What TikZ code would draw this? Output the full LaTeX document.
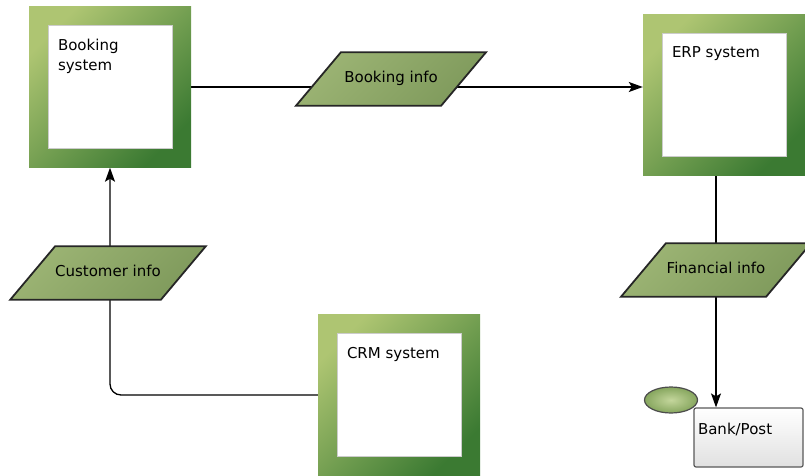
\documentclass[tikz,border=0pt]{standalone}
\usepackage{fontspec}
\setmainfont{DejaVu Sans}
\usetikzlibrary{arrows.meta,shapes.geometric,backgrounds}

\definecolor{frameLight}{HTML}{AEC572}
\definecolor{frameDark}{HTML}{3B7A32}
\definecolor{infoLight}{HTML}{9CB474}
\definecolor{infoDark}{HTML}{7F9A5C}
\definecolor{ovalLight}{HTML}{C4D69C}
\definecolor{ovalDark}{HTML}{86A65E}

\newcommand{\systext}[1]{\parbox[c][96pt][t]{104pt}{#1}}
\newcommand{\banktext}[1]{\parbox[c][28pt][t]{101pt}{#1}}

\begin{document}
\begin{tikzpicture}[x=1pt, y=-1pt,
  font=\fontsize{15pt}{20pt}\selectfont,
  sysframe/.style={inner sep=0pt, minimum width=162pt, minimum height=161pt,
    left color=frameLight, right color=frameDark, shading angle=45,
    path picture={\fill[white, draw=black!20]
      ([xshift=19pt,yshift=-19pt]path picture bounding box.north west) rectangle
      ([xshift=-19pt,yshift=19pt]path picture bounding box.south east);}},
  infobox/.style={trapezium, trapezium left angle=50, trapezium right angle=130,
    trapezium stretches body, minimum width=190pt,
    inner xsep=0pt, inner ysep=19.5pt, text height=11pt, text depth=3.5pt,
    draw=black!85, line width=1.8pt, left color=infoLight, right color=infoDark,
    shading angle=45},
  bankbox/.style={draw=black!65, line width=1.2pt, rounded corners=2pt,
    top color=white, bottom color=black!12, inner sep=0pt,
    minimum width=109pt, minimum height=59pt},
  oval/.style={ellipse, draw=black!70, line width=1.2pt, inner sep=0pt,
    minimum width=53pt, minimum height=26pt,
    inner color=ovalLight, outer color=ovalDark},
  link/.style={black, line width=1.3pt},
  tip/.style={-{Stealth[length=14pt,width=10pt,inset=3pt]}}]
\useasboundingbox (0,0) rectangle (805,476);

\node[sysframe] (booking) at (110,87) {\systext{Booking\\system}};
\node[sysframe] (erp) at (724,95) {\systext{ERP system}};
\node[sysframe] (crm) at (399,395) {\systext{CRM system}};

\node[infobox] (bookinfo) at (391,79) {Booking info};
\node[infobox] (custinfo) at (108,273) {Customer info};
\node[infobox] (fininfo) at (716,270) {Financial info};

\node[bankbox] (bank) at (748.5,437.5) {\banktext{Bank/Post}};
\node[oval] (bankoval) at (671,400) {};

\begin{scope}[on background layer]
\draw[link, tip] (booking.east) -- (booking.east -| erp.west);
\draw[link, tip, rounded corners=11pt] (crm.west) -| (booking.south);
\draw[link, tip] (erp.south -| fininfo.center) -- (fininfo.center |- bank.north);
\end{scope}
\end{tikzpicture}
\end{document}
